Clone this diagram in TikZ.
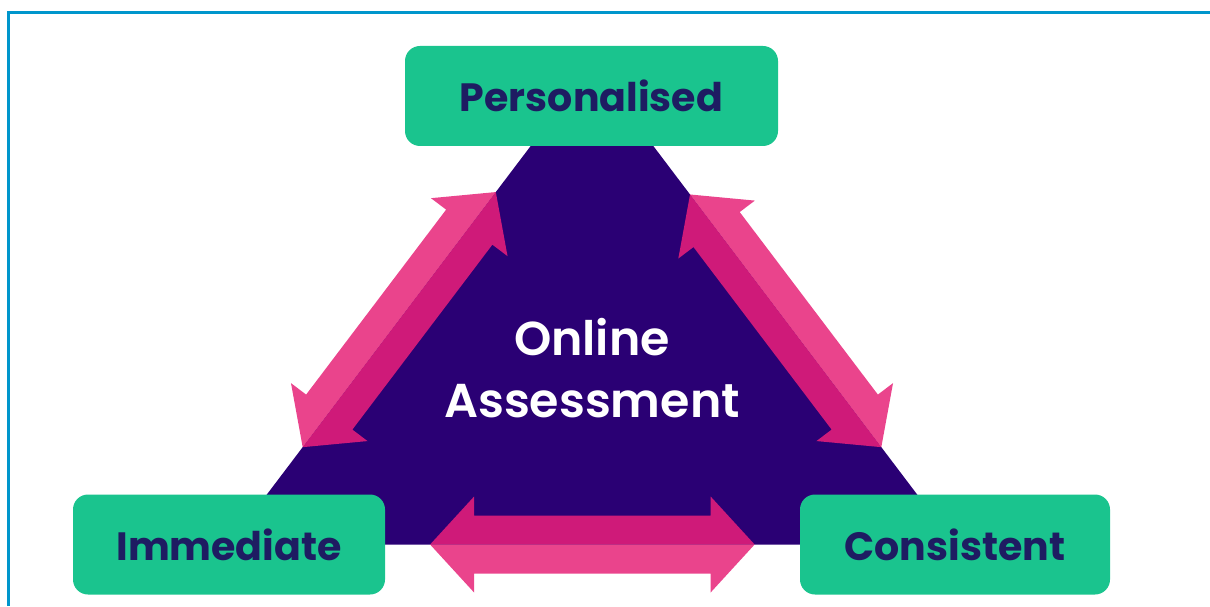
\documentclass[tikz,border=0pt]{standalone}
\usepackage{fontspec}
\setmainfont{Poppins}
\newfontfamily\popsemi{Poppins}[UprightFont={* SemiBold}]
\usetikzlibrary{calc}

\definecolor{tripurple}{RGB}{42,0,116}
\definecolor{boxgreen}{RGB}{26,196,142}
\definecolor{labelnavy}{RGB}{30,28,98}
\definecolor{pinklight}{RGB}{234,68,140}
\definecolor{pinkdark}{RGB}{207,26,121}
\definecolor{frameblue}{RGB}{0,150,204}

% arrow proportions
\def\headlen{44}
\def\headwd{48}
\def\shaftwd{29}

\tikzset{
  box/.style={fill=boxgreen, rounded corners=15pt, text=labelnavy, inner sep=0pt,
    minimum height=100pt, font=\fontsize{39.5}{46}\selectfont\bfseries},
  duo arrow/.pic={
    \fill[pinklight] (0,0) -- (\headlen,-\headwd) -- (\headlen,-\shaftwd) -- ({#1-\headlen},-\shaftwd)
      -- ({#1-\headlen},-\headwd) -- (#1,0) -- cycle;
    \fill[pinkdark] (0,0) -- (\headlen,\headwd) -- (\headlen,\shaftwd) -- ({#1-\headlen},\shaftwd)
      -- ({#1-\headlen},\headwd) -- (#1,0) -- cycle;
  }
}
% two-tone double arrow from #1 to #2, light half on the right
\newcommand\duoarrow[2]{%
  \path let \p1=($(#2)-(#1)$), \n1={veclen(\x1,\y1)}, \n2={atan2(\y1,\x1)} in
    (#1) pic[rotate=\n2] {duo arrow=\n1};
}

\begin{document}
\begin{tikzpicture}[x=1pt,y=1pt]
  \useasboundingbox (0,0) rectangle (1210,606);
  \draw[frameblue, line width=3pt] (8,0) -- (8,593) -- (1210,593);

  \coordinate (left) at (229,61.5);
  \coordinate (right) at (955,61.5);
  \coordinate (apex) at (592,541);

  \fill[tripurple] (left) -- (right) -- (apex) -- cycle;

  \duoarrow{$(left)!0.735!(apex)$}{$(left)!0.203!(apex)$}
  \duoarrow{$(right)!0.203!(apex)$}{$(right)!0.73!(apex)$}
  \duoarrow{$(left)!0.277!(right)$}{$(left)!0.724!(right)$}

  \node[text=white, align=center, font=\fontsize{47.5}{62}\selectfont\popsemi] (oa) at (592,238) {Online\\Assessment};

  \node[box, minimum width=373pt] (pers) at (591.5,510) {Personalised};
  \node[box, minimum width=312pt] (imm) at (left) {Immediate};
  \node[box, minimum width=310pt] (cons) at (right) {Consistent};
\end{tikzpicture}
\end{document}
